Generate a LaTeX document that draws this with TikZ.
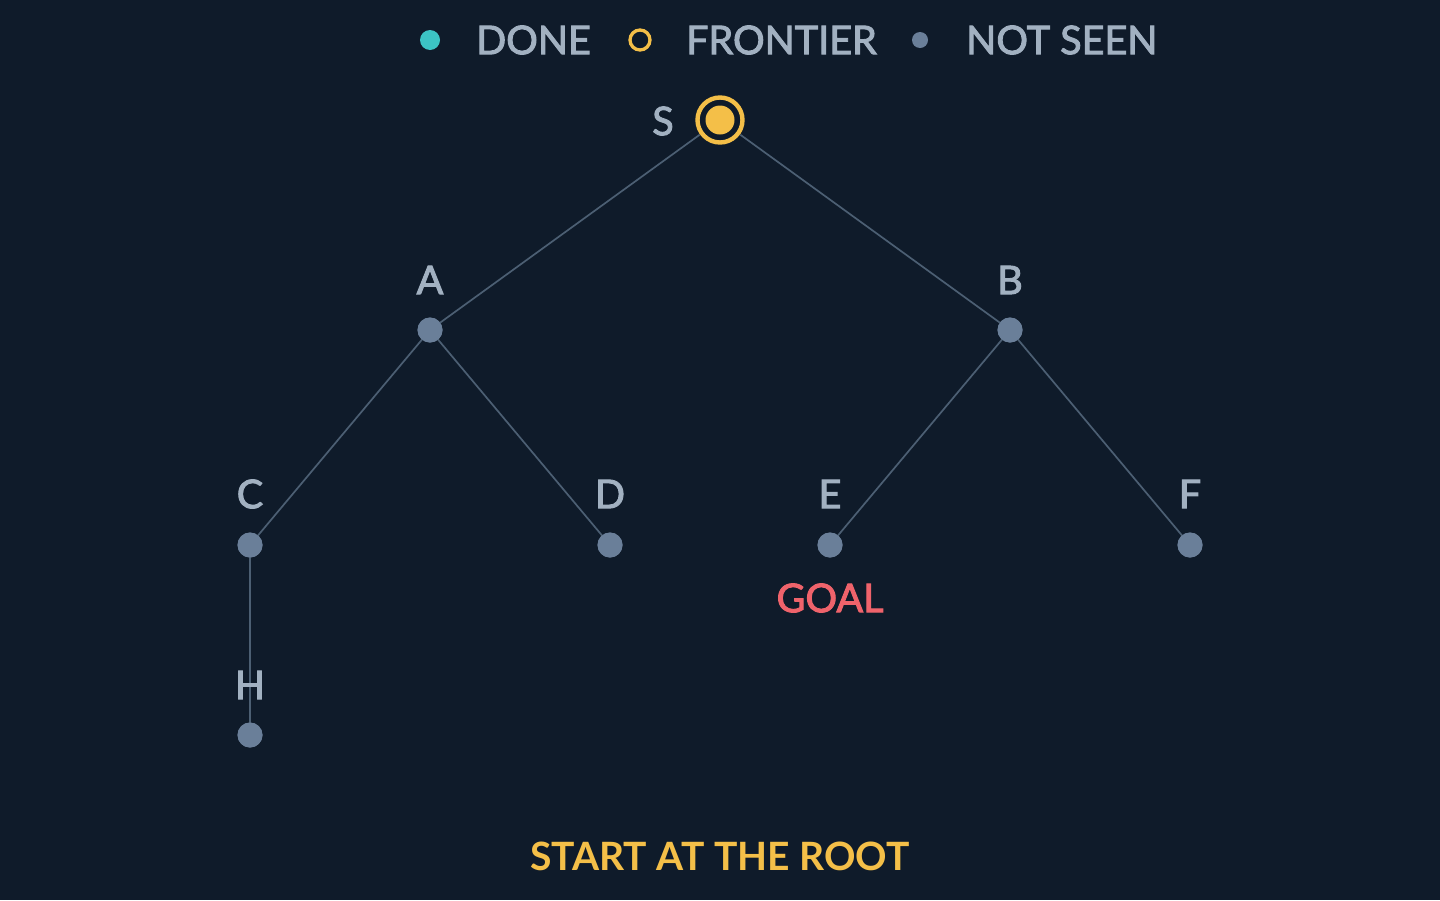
\documentclass[tikz,border=0pt]{standalone}
\usepackage{fontspec}
\setmainfont{Lato}
\newfontfamily\medfont{Lato}[FakeBold=2.4]
\usepackage{tikz}

\definecolor{bg}{HTML}{0F1B2A}
\definecolor{edgecol}{HTML}{4C5F73}
\definecolor{unseen}{HTML}{6A7F99}
\definecolor{labelcol}{HTML}{A2B1C1}
\definecolor{donecol}{HTML}{3CC4C4}
\definecolor{frontcol}{HTML}{F4BF48}
\definecolor{goalcol}{HTML}{EF636B}

\begin{document}
\begin{tikzpicture}[x=1pt,y=-1pt,
	vtx/.style={circle,fill=unseen,inner sep=0pt,minimum size=25pt},
	lbl/.style={text=labelcol,font=\medfont\fontsize{39.5}{48}\selectfont,inner sep=0pt},
	tree/.style={draw=edgecol,line width=1.7pt}]
		\fill[bg] (0,0) rectangle (1440,900);
		\useasboundingbox (0,0) rectangle (1440,900);
		% legend
		\fill[donecol] (430,40) circle (10);
		\node[lbl,anchor=west] (done) at (476,40){DONE};
		\draw[frontcol,line width=3.3pt] (640,40) circle (10);
		\node[lbl,anchor=west] (front) at (686,40){FRONTIER};
		\fill[unseen] (920,40) circle (8);
		\node[lbl,anchor=west] (unseen) at (966,40){NOT SEEN};
		% tree nodes
		\node[vtx] (A) at (430,330){};
		\node[vtx] (B) at (1010,330){};
		\node[vtx] (C) at (250,545){};
		\node[vtx] (D) at (610,545){};
		\node[vtx] (E) at (830,545){};
		\node[vtx] (F) at (1190,545){};
		\node[vtx] (H) at (250,735){};
		\node[circle,inner sep=0pt,minimum size=48pt] (S) at (720,120){};
		% edges
		\draw[tree] (S.center) -- (A.center);
		\draw[tree] (S.center) -- (B.center);
		\draw[tree] (A.center) -- (C.center);
		\draw[tree] (A.center) -- (D.center);
		\draw[tree] (B.center) -- (E.center);
		\draw[tree] (B.center) -- (F.center);
		\draw[tree] (C.center) -- (H.center);
		\foreach \v in {A,B,C,D,E,F,H}
			\fill[unseen] (\v) circle (12.5);
		\fill[bg] (S) circle (25);
		\draw[frontcol,line width=4.4pt] (S) circle (22.5);
		\fill[frontcol] (S) circle (14.5);
		% labels
		\node[lbl] (labS) at (663,121){S};
		\node[lbl] (labA) at (430,280){A};
		\node[lbl] (labB) at (1010,280){B};
		\node[lbl] (labC) at (250,494){C};
		\node[lbl] (labD) at (610,494){D};
		\node[lbl] (labE) at (830,494){E};
		\node[lbl] (labF) at (1190,494){F};
		\node[lbl] (labH) at (250,685){H};
		\node[lbl,text=goalcol] (goal) at (830,598){GOAL};
		\node[lbl,text=frontcol,font=\fontsize{39}{48}\selectfont\bfseries] (caption) at (720,856){START AT THE ROOT};
	\end{tikzpicture}
\end{document}
